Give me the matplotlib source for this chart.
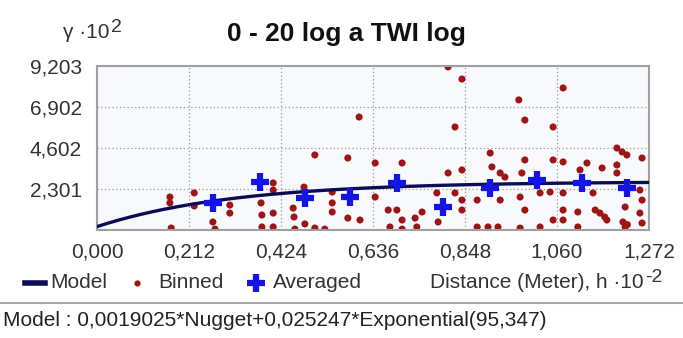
#!/usr/bin/env python3
"""
plot.py - semivariogram of the 0-20 cm log TWI samples
"""

import numpy as np
import matplotlib
matplotlib.use("Agg")
import matplotlib.pyplot as plt
from matplotlib.lines import Line2D

plt.rcParams['font.family'] = ['Liberation Sans', 'DejaVu Sans']

TITLE = "0 - 20 log a TWI log"
MODEL_TEXT = "Model : 0,0019025*Nugget+0,025247*Exponential(95,347)"

# fitted model (gamma in units of 1e-2, distance in units of 1e2 m)
NUGGET = 0.0019025
PARTIAL_SILL = 0.025247
MODEL_RANGE = 95.347

X_TICKS = [0.000, 0.212, 0.424, 0.636, 0.848, 1.060, 1.272]
Y_TICKS = [2.301, 4.602, 6.902, 9.203]

# binned semivariance pairs (h * 1e-2, gamma * 1e2)
binned_h = [0.168, 0.168, 0.171, 0.224, 0.224, 0.267, 0.272, 0.306, 0.306,
            0.378, 0.380, 0.380, 0.406, 0.406, 0.406, 0.406, 0.452, 0.454,
            0.456, 0.477, 0.479, 0.502, 0.502, 0.525, 0.542, 0.542, 0.542,
            0.578, 0.578, 0.604, 0.606, 0.641, 0.641, 0.671, 0.691, 0.675,
            0.703, 0.703, 0.703, 0.733, 0.749, 0.737, 0.783, 0.786, 0.809,
            0.841, 0.825, 0.809, 0.825, 0.841, 0.841, 0.841, 0.876, 0.876,
            0.901, 0.924, 0.906, 0.910, 0.929, 0.940, 0.929, 0.972, 0.986,
            0.975, 0.986, 0.975, 0.986, 0.979, 1.021, 1.021, 1.044, 1.051,
            1.051, 1.074, 1.051, 1.074, 1.074, 1.074, 1.074, 1.108, 1.108,
            1.113, 1.129, 1.143, 1.148, 1.159, 1.175, 1.170, 1.164, 1.198,
            1.210, 1.221, 1.198, 1.198, 1.217, 1.212, 1.217, 1.222, 1.256,
            1.256, 1.251, 1.256, 1.251]
binned_g = [1.85, 1.52, 0.11, 2.08, 1.35, 0.45, 0.05, 1.40, 0.95,
            1.52, 0.84, 0.17, 2.64, 2.24, 0.95, 0.17, 1.23, 0.73,
            0.05, 2.41, 0.34, 4.21, 0.11, 0.05, 2.13, 1.52, 1.01,
            4.04, 0.67, 6.34, 0.56, 3.76, 1.85, 1.12, 1.12, 0.17,
            0.56, 0.05, 3.76, 0.67, 1.01, 0.17, 2.08, 0.45, 9.15,
            8.47, 5.78, 3.20, 2.08, 3.37, 1.68, 1.12, 1.68, 0.17,
            0.17, 0.17, 4.32, 3.54, 3.20, 2.97, 1.68, 7.30, 6.17,
            0.11, 1.12, 1.85, 3.93, 3.20, 0.17, 2.08, 2.13, 0.56,
            5.78, 7.97, 3.93, 3.82, 2.08, 1.12, 0.56, 1.01, 0.17,
            3.37, 3.76, 2.08, 1.12, 0.95, 0.56, 0.73, 3.48, 4.60,
            4.38, 4.21, 3.65, 3.20, 1.29, 0.45, 0.17, 0.30, 4.04,
            1.68, 2.24, 0.39, 0.95]

# lag averages
avg_h = [0.267, 0.376, 0.479, 0.583, 0.691, 0.797, 0.906, 1.014, 1.118, 1.221]
avg_g = [1.52, 2.70, 1.80, 1.85, 2.64, 1.29, 2.36, 2.81, 2.64, 2.36]

RED = '#9e1515'
BLUE = '#1414e6'
NAVY = '#0c0c55'
TXT = '#333333'
FS = 15

W, H = 683, 338


def fx(px):
    return px / W


def fy(py):
    return 1 - py / H


def model_curve(h):
    # exponential model, h given in hundreds of metres
    dist = h * 100.0
    gamma = NUGGET + PARTIAL_SILL * (1.0 - np.exp(-3.0 * dist / MODEL_RANGE))
    return gamma * 100.0


def sup(base, s):
    # raised exponent placed right after a text artist
    return plt.annotate(s, xy=(1, 1), xycoords=base, xytext=(1, -3),
                        textcoords='offset points', ha='left', va='center',
                        fontsize=FS - 1, color=TXT)


def main():
    fig = plt.figure(figsize=(W / 100, H / 100), dpi=100)
    ax = fig.add_axes([fx(97), fy(230), fx(552), 164 / H])
    ax.set_facecolor('#f8f9fc')

    hh = np.linspace(0, X_TICKS[-1], 200)
    ax.plot(hh, model_curve(hh), color=NAVY, lw=2.4, zorder=3)
    ax.scatter(binned_h, binned_g, s=26, color=RED, edgecolors='none', zorder=2)
    ax.plot(avg_h, avg_g, ls='none', marker='+', ms=12.5, mew=4.5,
            color=BLUE, zorder=4)

    ax.set_xlim(X_TICKS[0], X_TICKS[-1])
    ax.set_ylim(0, Y_TICKS[-1])
    ax.set_xticks(X_TICKS)
    ax.set_xticklabels([f"{v:.3f}".replace('.', ',') for v in X_TICKS])
    ax.set_yticks(Y_TICKS)
    ax.set_yticklabels([f"{v:.3f}".replace('.', ',') for v in Y_TICKS])
    ax.tick_params(length=0, labelsize=FS, labelcolor=TXT)
    ax.tick_params(axis='y', pad=11)
    ax.tick_params(axis='x', pad=9)
    ax.grid(True, ls=(0, (1, 2)), color='#9a9a9a', lw=0.9)
    for sp in ax.spines.values():
        sp.set_color('#a0a0a0')
        sp.set_linewidth(1.5)

    fig.text(fx(346), fy(34), TITLE, ha='center', va='center',
             fontsize=19, fontweight='bold', color='#111111')
    ylab = fig.text(fx(63), fy(33), "γ ·10", ha='left', va='center',
                    fontsize=FS, color=TXT)
    sup(ylab, "2")

    # legend row under the axis
    ly = fy(283)
    fig.add_artist(Line2D([fx(25), fx(45)], [ly, ly], color=NAVY, lw=4,
                          transform=fig.transFigure))
    fig.text(fx(50), ly, "Model", ha='left', va='center', fontsize=FS, color=TXT)
    fig.add_artist(Line2D([fx(137)], [ly], ls='none', marker='o', ms=4.5,
                          color=RED, mec='none', transform=fig.transFigure))
    fig.text(fx(158), ly, "Binned", ha='left', va='center', fontsize=FS, color=TXT)
    fig.add_artist(Line2D([fx(256)], [ly], ls='none', marker='+', ms=12.5,
                          mew=4.5, color=BLUE, transform=fig.transFigure))
    fig.text(fx(273), ly, "Averaged", ha='left', va='center', fontsize=FS, color=TXT)

    xlab = fig.text(fx(430), ly, "Distance (Meter), h ·10", ha='left',
                    va='center', fontsize=FS, color=TXT)
    sup(xlab, "-2")

    fig.add_artist(Line2D([0, 1], [fy(303)] * 2, color='#a8a8a8',
                          lw=1.5, transform=fig.transFigure))
    fig.text(fx(3), fy(321), MODEL_TEXT, ha='left', va='center',
             fontsize=FS, color='#222222')

    fig.savefig('out.png', dpi=100, facecolor='white')


if __name__ == '__main__':
    main()
